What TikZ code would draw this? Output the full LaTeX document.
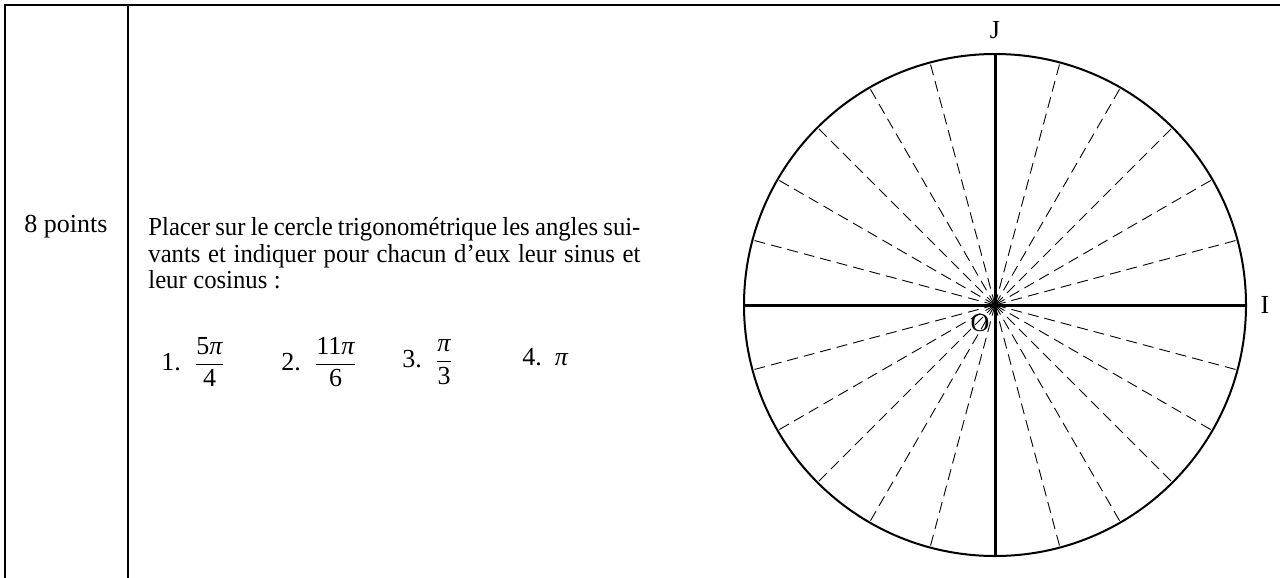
\documentclass[tikz,border=0pt]{standalone}
\usepackage{amsmath}
\usepackage{fontspec}
\setmainfont{Liberation Serif}
\newfontfamily\serre[FakeStretch=0.95]{Liberation Serif}
\newcommand{\piit}{\textit{π}}

\begin{document}
\begin{tikzpicture}[x=0.5pt,y=-0.5pt,
        cadre/.style={line width=1pt},
        axe/.style={line width=1.5pt},
        rayon/.style={dash pattern=on 5.5pt off 3pt,line width=0.45pt},
        every node/.style={font=\fontsize{13}{13.3}\selectfont}]
                \useasboundingbox (0,0) rectangle (1280,578);

                % tableau
                \draw[cadre](1280,5)--(5,5)--(5,578);
                \draw[cadre](128,5)--(128,578);

                \node (pts) at(66,227) {8 points};
                \node[anchor=north west,inner sep=0pt,text width=246pt,align=justify] (enonce) at(148,217)
                    {\serre\spaceskip=0.25em plus 0.3em minus 0.12em
                     Placer sur le cercle trigonométrique les angles sui-\linebreak
                     vants et indiquer pour chacun d’eux leur sinus et\linebreak
                     leur cosinus :};

                \node[anchor=west,inner sep=0pt] (q1) at(161,362) {1.\hspace{6.5pt}$\dfrac{\text{5\piit}}{\text{4}}$};
                \node[anchor=west,inner sep=0pt] (q2) at(281,362) {2.\hspace{6.5pt}$\dfrac{\text{11\piit}}{\text{6}}$};
                \node[anchor=west,inner sep=0pt] (q3) at(402,362) {3.\hspace{6.5pt}$\dfrac{\text{\piit}}{\text{3}}$};
                \node[anchor=west,inner sep=0pt] (q4) at(522,357) {4.\hspace{6.5pt}\piit};

                % cercle trigonometrique
                \coordinate (O) at(995,305);
                \coordinate (I0) at(1246,305);
                \coordinate (I1) at(744,305);
                \coordinate (J0) at(995,54);
                \coordinate (J1) at(995,556);

                \foreach \k in {0,...,3}
                    \foreach \j in {1,...,5}
                        \draw[rayon](O)--++(\k*90+\j*15:251);

                \draw[line width=1pt](O) circle[radius=125.5pt];
                \draw[axe](I1)--(I0);
                \draw[axe](J1)--(J0);

                \node (lI) at(1265,305) {I};
                \node (lJ) at(995,30) {J};
                \node (lO) at(980,323) {O};
            \end{tikzpicture}
\end{document}
